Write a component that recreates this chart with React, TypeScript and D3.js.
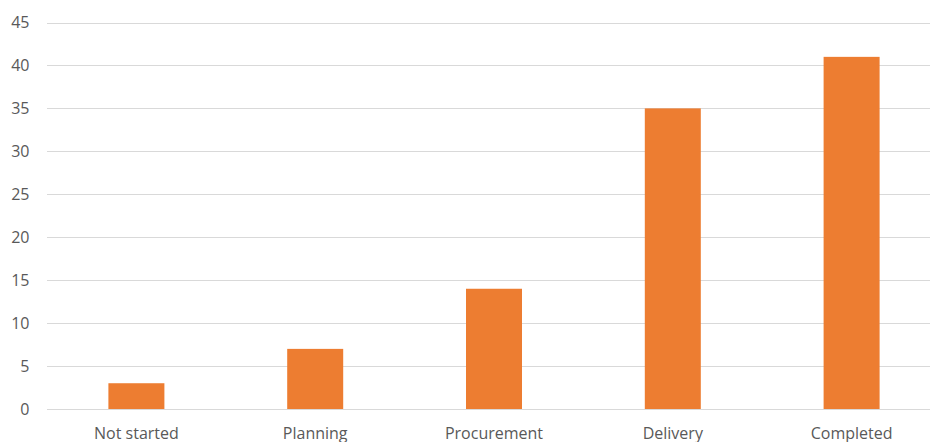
import React from "react";
import * as d3 from "d3";

const categories = ["Not started", "Planning", "Procurement", "Delivery", "Completed"];
const values = [3, 7, 14, 35, 41];
const yTicks = [0, 5, 10, 15, 20, 25, 30, 35, 40, 45];

const W = 930;
const H = 442;

export default function App() {
  const x = d3.scaleBand<string>().domain(categories).range([47, 941]).paddingInner(0).paddingOuter(0);
  const y = d3.scaleLinear().domain([0, 45]).range([409, 22.5]);
  const barW = 56;
  const font = "'Open Sans', sans-serif";
  return (
    <svg width={W} height={H} style={{ position: "absolute", left: 0, top: 0, background: "#fff" }}>
      {yTicks.map((t) => (
        <g key={t}>
          <line x1={47} x2={W} y1={Math.round(y(t)) + 0.5} y2={Math.round(y(t)) + 0.5} stroke="#d9d9d9" strokeWidth={1} />
          <text x={29.5} y={y(t)} dy="0.36em" textAnchor="end" fontSize={16} fill="#595959" fontFamily={font}>
            {t}
          </text>
        </g>
      ))}
      {categories.map((c, i) => {
        const cx = (x(c) as number) + x.bandwidth() / 2;
        return (
          <g key={c}>
            <rect x={cx - barW / 2} y={y(values[i])} width={barW} height={y(0) - y(values[i])} fill="#ED7D31" />
            <text x={cx} y={438.5} textAnchor="middle" fontSize={16} fill="#595959" fontFamily={font}>
              {c}
            </text>
          </g>
        );
      })}
    </svg>
  );
}
